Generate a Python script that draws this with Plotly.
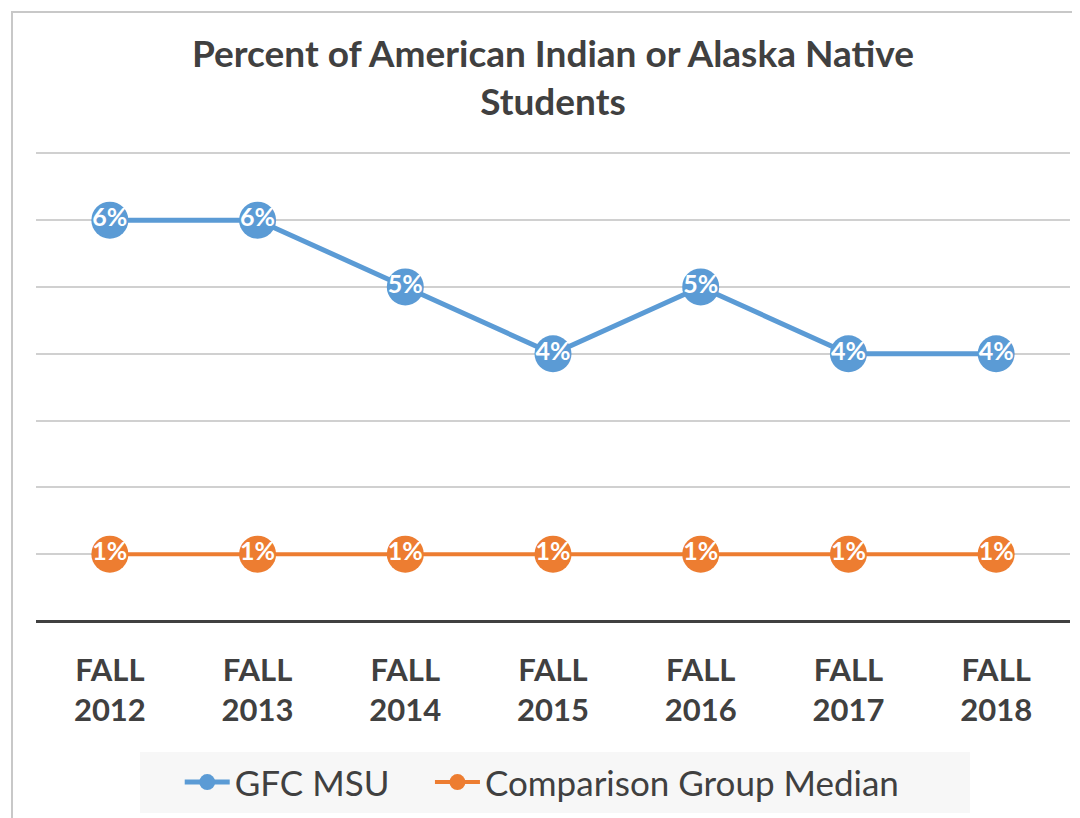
import plotly.graph_objects as go

categories = ["FALL<br>2012", "FALL<br>2013", "FALL<br>2014", "FALL<br>2015",
              "FALL<br>2016", "FALL<br>2017", "FALL<br>2018"]
gfc_msu = [6, 6, 5, 4, 5, 4, 4]
comparison_median = [1, 1, 1, 1, 1, 1, 1]
y_ticks = [0, 1, 2, 3, 4, 5, 6, 7]

BLUE = "#5b9bd5"
ORANGE = "#ed7d31"
FONT = "Lato"
DARK = "#404040"

fig = go.Figure()
fig.add_trace(go.Scatter(
    x=categories, y=gfc_msu, name="GFC MSU",
    mode="lines+markers+text",
    line=dict(color=BLUE, width=5),
    marker=dict(color=BLUE, size=37),
    text=[f"{v}%" for v in gfc_msu], textposition="middle center",
    textfont=dict(family=FONT, size=25, color="white", weight="bold"),
    legend="legend",
))
fig.add_trace(go.Scatter(
    x=categories, y=comparison_median, name="Comparison Group Median",
    mode="lines+markers+text",
    line=dict(color=ORANGE, width=4),
    marker=dict(color=ORANGE, size=37),
    text=[f"{v}%" for v in comparison_median], textposition="middle center",
    textfont=dict(family=FONT, size=25, color="white", weight="bold"),
    legend="legend2",
))

legend_common = dict(
    orientation="h", xanchor="left", y=-0.344, yanchor="middle",
    bgcolor="rgba(0,0,0,0)", font=dict(family=FONT, size=35, color=DARK),
    itemwidth=45,
)

fig.update_layout(
    width=1080, height=818,
    margin=dict(l=28, r=18, t=144, b=205),
    paper_bgcolor="white", plot_bgcolor="white",
    title=dict(
        text="Percent of American Indian or Alaska Native<br>Students",
        x=0.5, xref="paper", y=0.928, yref="container", yanchor="middle",
        font=dict(family=FONT, size=37, color=DARK, weight="bold"),
    ),
    font=dict(family=FONT, color=DARK),
    showlegend=True,
    legend=dict(x=0.139, **legend_common),
    legend2=dict(x=0.381, **legend_common),
    xaxis=dict(
        type="category", range=[-0.5, 6.5],
        showgrid=False, showline=False, ticks="",
        tickfont=dict(family=FONT, size=31, color=DARK, weight="bold"),
        ticklabelstandoff=28,
        fixedrange=True,
    ),
    yaxis=dict(
        range=[0, 7.02], tickvals=y_ticks, showticklabels=False,
        showgrid=True, gridcolor="#d0d0d0", gridwidth=2,
        zeroline=True, zerolinecolor="#404040", zerolinewidth=3,
        showline=False, fixedrange=True,
    ),
    shapes=[
        dict(type="rect", xref="paper", yref="paper",
             x0=-0.0232, x1=1.05, y0=-0.5, y1=1.2985,
             line=dict(color="#c8c8c8", width=2), layer="below"),
        dict(type="rect", xref="paper", yref="paper",
             x0=0.1006, x1=0.9033, y0=-0.4094, y1=-0.2793,
             fillcolor="#f7f7f7", line=dict(width=0), layer="below"),
    ],
)

fig.write_html("out.html")
